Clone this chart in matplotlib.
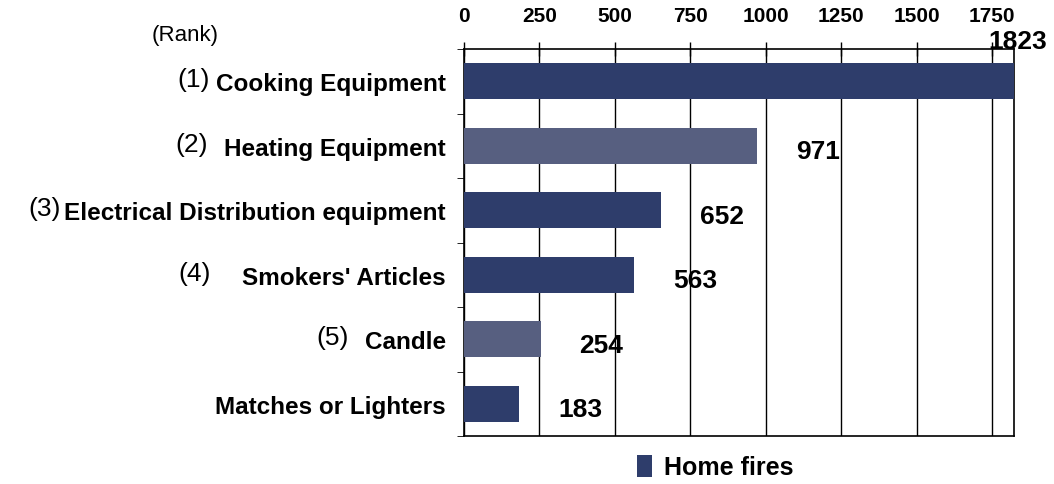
import matplotlib.pyplot as plt
from matplotlib.transforms import blended_transform_factory

plt.rcParams['font.family'] = ['Liberation Sans', 'DejaVu Sans']

categories = ["Cooking Equipment", "Heating Equipment", "Electrical Distribution equipment",
              "Smokers' Articles", "Candle", "Matches or Lighters"]
ranks = ["(1)", "(2)", "(3)", "(4)", "(5)", ""]
home_fires = [1823, 971, 652, 563, 254, 183]
ticks = [0, 250, 500, 750, 1000, 1250, 1500, 1750]

dark = "#2e3d6b"
light = "#575f80"
colors = [dark, light, dark, dark, light, dark]
rank_gap = [6, 16, 4, 32, 16, 0]  # px between rank and category text

fig = plt.figure(figsize=(10.54, 4.85), dpi=100)
ax = fig.add_axes([464 / 1054, 1 - 437 / 485, (1014 - 464) / 1054, (437 - 50) / 485])

y = list(range(len(categories)))
bars = ax.barh(y, home_fires, height=0.56, color=colors, zorder=3)
ax.set_ylim(len(categories) - 0.5, -0.5)
ax.set_xlim(0, max(home_fires))

ax.xaxis.tick_top()
ax.set_xticks(ticks)
ax.set_xticklabels([str(t) for t in ticks], fontsize=15, fontweight='bold')
ax.tick_params(axis='x', direction='inout', length=10, width=1, pad=12, colors='black')
ax.grid(axis='x', color='black', linewidth=1, zorder=0)

ax.set_yticks(y)
ax.set_yticklabels(categories, fontsize=17.5, fontweight='bold')
ax.set_yticks([i + 0.5 for i in range(-1, len(categories))], minor=True)
ax.tick_params(axis='y', which='major', length=0, pad=13)
ax.tick_params(axis='y', which='minor', length=5, direction='out')

for s in ax.spines.values():
    s.set_color('black')
    s.set_linewidth(1.2)

# value labels
for i, v in enumerate(home_fires):
    if i == 0:
        ax.annotate(str(v), (v, 1.0), xycoords=('data', 'axes fraction'),
                    xytext=(3, -3), textcoords='offset points',
                    ha='center', va='bottom', fontsize=19, fontweight='bold')
    else:
        ax.annotate(str(v), (v, i), xytext=(28, -4), textcoords='offset points',
                    ha='left', va='center', fontsize=19, fontweight='bold')

fig.canvas.draw()
inv = fig.transFigure.inverted()
trans = blended_transform_factory(fig.transFigure, ax.transData)
for lab, r, g, i in zip(ax.get_yticklabels(), ranks, rank_gap, y):
    if not r:
        continue
    bb = lab.get_window_extent()
    fx, _ = inv.transform((bb.x0 - g, 0))
    ax.text(fx, i - 0.03, r, transform=trans, ha='right', va='center', fontsize=19)

fig.text(152 / 1054, 1 - 35 / 485, "(Rank)", fontsize=16, ha='left', va='center')

fig.legend([bars[0]], ["Home fires"], loc='center', bbox_to_anchor=(715 / 1054, 1 - 468 / 485),
           frameon=False, prop={'size': 18, 'weight': 'bold'}, handlelength=0.6,
           handleheight=1.0, handletextpad=0.5)

fig.savefig("out.png", dpi=100)
